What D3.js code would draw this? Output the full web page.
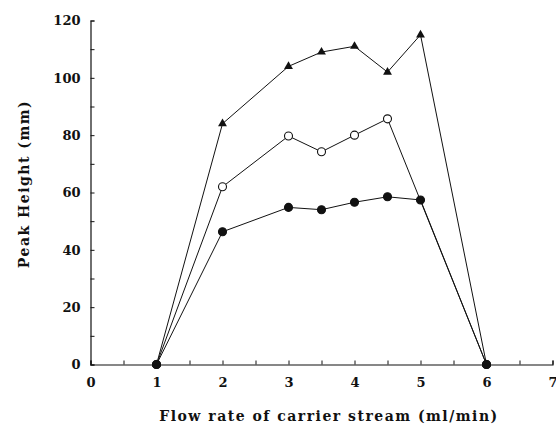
<!DOCTYPE html>
<html>
<head>
<meta charset="utf-8">
<script src="https://cdn.jsdelivr.net/npm/d3@7"></script>
<style>
  html, body { margin: 0; padding: 0; background: #fff; }
  svg { display: block; }
  text { font-family: "DejaVu Serif", serif; font-weight: bold; fill: #111; }
</style>
</head>
<body>
<svg id="chart" width="556" height="426"></svg>
<script>
// Flow rate of carrier stream (ml/min)
const flowRates = [1, 2, 3, 3.5, 4, 4.5, 5, 6];

// Peak height (mm) for each series
const triangleSeries = [
  [1, 0], [2, 84], [3, 104], [3.5, 109], [4, 111], [4.5, 102], [5, 115], [6, 0]
];
const openCircleSeries = [
  [1, 0], [2, 62], [3, 79.7], [3.5, 74.2], [4, 80], [4.5, 85.7], [6, 0]
];
const filledCircleSeries = [
  [1, 0], [2, 46.3], [3, 54.8], [3.5, 54], [4, 56.6], [4.5, 58.5], [5, 57.4], [6, 0]
];

const xTickLabels = [0, 1, 2, 3, 4, 5, 6, 7];
const yTickLabels = [0, 20, 40, 60, 80, 100, 120];

const svg = d3.select("#chart");

const x = d3.scaleLinear().domain([0, 7]).range([90.5, 552.5]);
const y = d3.scaleLinear().domain([0, 120]).range([364.5, 20.5]);

const ink = "#111";

// y axis: labelled every 20, ticks every 10, drawn inward
const yAxis = d3.axisLeft(y)
  .tickValues(d3.range(0, 121, 10))
  .tickSize(-4)
  .tickPadding(10)
  .tickFormat(d => yTickLabels.includes(d) ? d : "");
const gy = svg.append("g").attr("transform", `translate(${x(0)},0)`).call(yAxis);
gy.select(".domain").attr("stroke", ink).attr("stroke-width", 1.2);
gy.selectAll(".tick line").attr("stroke", ink);
gy.selectAll(".tick text").attr("font-size", 13).attr("fill", ink)
  .attr("font-family", "DejaVu Serif").attr("font-weight", "bold");

// x axis: labelled every 1, ticks every 0.5, drawn inward
const xAxis = d3.axisBottom(x)
  .tickValues(d3.range(0, 7.01, 0.5))
  .tickSize(-4)
  .tickPadding(13)
  .tickFormat(d => xTickLabels.includes(d) ? d : "");
const gx = svg.append("g").attr("transform", `translate(0,${y(0)})`).call(xAxis);
gx.select(".domain").attr("stroke", ink).attr("stroke-width", 1.2);
gx.selectAll(".tick line").attr("stroke", ink);
gx.selectAll(".tick text").attr("font-size", 13).attr("fill", ink)
  .attr("font-family", "DejaVu Serif").attr("font-weight", "bold");

// axis titles
svg.append("text")
  .attr("x", 329).attr("y", 421)
  .attr("text-anchor", "middle")
  .attr("font-size", 14)
  .attr("letter-spacing", 1.5)
  .text("Flow rate of carrier stream (ml/min)");

svg.append("text")
  .attr("transform", "translate(29,184) rotate(-90)")
  .attr("text-anchor", "middle")
  .attr("font-size", 14)
  .attr("letter-spacing", 1.5)
  .text("Peak Height (mm)");

const line = d3.line().x(d => x(d[0])).y(d => y(d[1]));

function drawSeries(data, marker) {
  const g = svg.append("g");
  g.append("path").datum(data)
    .attr("d", line)
    .attr("fill", "none")
    .attr("stroke", ink)
    .attr("stroke-width", 1);
  if (marker === "triangle") {
    const sym = d3.symbol().type(d3.symbolTriangle).size(34);
    g.selectAll("path.m").data(data).join("path")
      .attr("class", "m")
      .attr("d", sym)
      .attr("transform", d => `translate(${x(d[0])},${y(d[1])})`)
      .attr("fill", ink);
  } else {
    g.selectAll("circle").data(data).join("circle")
      .attr("cx", d => x(d[0]))
      .attr("cy", d => y(d[1]))
      .attr("r", 4)
      .attr("fill", marker === "open" ? "#fff" : ink)
      .attr("stroke", ink)
      .attr("stroke-width", 1.1);
  }
}

drawSeries(triangleSeries, "triangle");
drawSeries(openCircleSeries, "open");
drawSeries(filledCircleSeries, "filled");
</script>
</body>
</html>
